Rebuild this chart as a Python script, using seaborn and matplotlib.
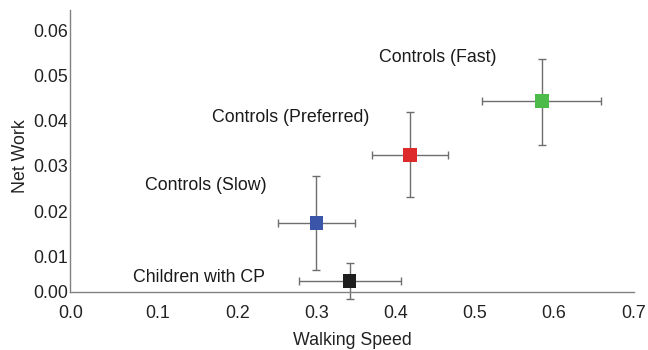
import matplotlib
matplotlib.use("Agg")
import matplotlib.pyplot as plt
import matplotlib.transforms as mtransforms
import seaborn as sns
import pandas as pd

groups = ["Children with CP", "Controls (Slow)", "Controls (Preferred)", "Controls (Fast)"]
speed = [0.342, 0.300, 0.418, 0.585]
net_work = [0.0045, 0.0174, 0.0324, 0.0444]
speed_lo = [0.278, 0.2515, 0.370, 0.509]
speed_hi = [0.407, 0.349, 0.466, 0.659]
work_lo = [0.0006, 0.0070, 0.0231, 0.0346]
work_hi = [0.0085, 0.0278, 0.0419, 0.0537]
colors = ["#1e1e1e", "#3b55a8", "#dd2a2a", "#4cbb4a"]
label_x = [0.1517, 0.1606, 0.268, 0.4535]
label_y = [0.0052, 0.0256, 0.0408, 0.0539]
xticks = [0.0, 0.1, 0.2, 0.3, 0.4, 0.5, 0.6, 0.7]
yticks = [0.00, 0.01, 0.02, 0.03, 0.04, 0.05, 0.06]

df = pd.DataFrame({"group": groups, "speed": speed, "work": net_work})

sns.set_theme(style="white")
plt.rcParams["font.family"] = ["Liberation Sans", "DejaVu Sans"]

FS = 12.8
fig = plt.figure(figsize=(6.48, 3.5), dpi=100)
ax = fig.add_axes([70 / 648, 48.5 / 350, 564 / 648, 291.5 / 350])

for i in range(len(groups)):
    ax.errorbar(speed[i], net_work[i],
                xerr=[[speed[i] - speed_lo[i]], [speed_hi[i] - speed[i]]],
                yerr=[[net_work[i] - work_lo[i]], [work_hi[i] - net_work[i]]],
                fmt="none", ecolor="#6e6e6e", elinewidth=1.0, capsize=3,
                capthick=1.0, zorder=2, clip_on=False)

sns.scatterplot(data=df, x="speed", y="work", hue="group", palette=colors,
                marker="s", s=95, edgecolor="none", legend=False, ax=ax,
                zorder=3, clip_on=False)

for i, g in enumerate(groups):
    ax.text(label_x[i], label_y[i], g, ha="center", va="center",
            fontsize=FS, color="#1a1a1a")

ax.set_xticks(xticks)
ax.set_yticks(yticks)
ax.set_xticklabels([f"{v:.1f}" for v in xticks])
ax.set_yticklabels([f"{v:.2f}" for v in yticks])
ax.set_xlim(-0.0111, 0.7011)
ax.set_ylim(0.0, 0.0645)
ax.tick_params(axis="both", length=0, labelsize=FS, labelcolor="#222222")
ax.tick_params(axis="x", pad=9.5)
ax.tick_params(axis="y", pad=1.5)

ax.set_xlabel("Walking Speed", fontsize=FS, color="#222222")
ax.set_ylabel("Net Work", fontsize=FS, color="#222222")
ax.xaxis.set_label_coords(0.5, -0.1046)
ax.yaxis.set_label_coords(-0.073, 0.499)

for s in ["top", "right"]:
    ax.spines[s].set_visible(False)
for s in ["left", "bottom"]:
    ax.spines[s].set_color("#808080")
    ax.spines[s].set_linewidth(1.0)
ax.spines["bottom"].set_position(("data", 0.0021))
ax.spines["left"].set_bounds(0.0021, 0.0645)

# corner labels sit at the axes origin
xl = ax.get_xticklabels()[0]
xl.set_transform(xl.get_transform() + mtransforms.ScaledTranslation(-8 / 100, 0, fig.dpi_scale_trans))
yl = ax.get_yticklabels()[0]
yl.set_transform(yl.get_transform() + mtransforms.ScaledTranslation(0, 10 / 100, fig.dpi_scale_trans))

fig.savefig("out.png", dpi=100, facecolor="white")
